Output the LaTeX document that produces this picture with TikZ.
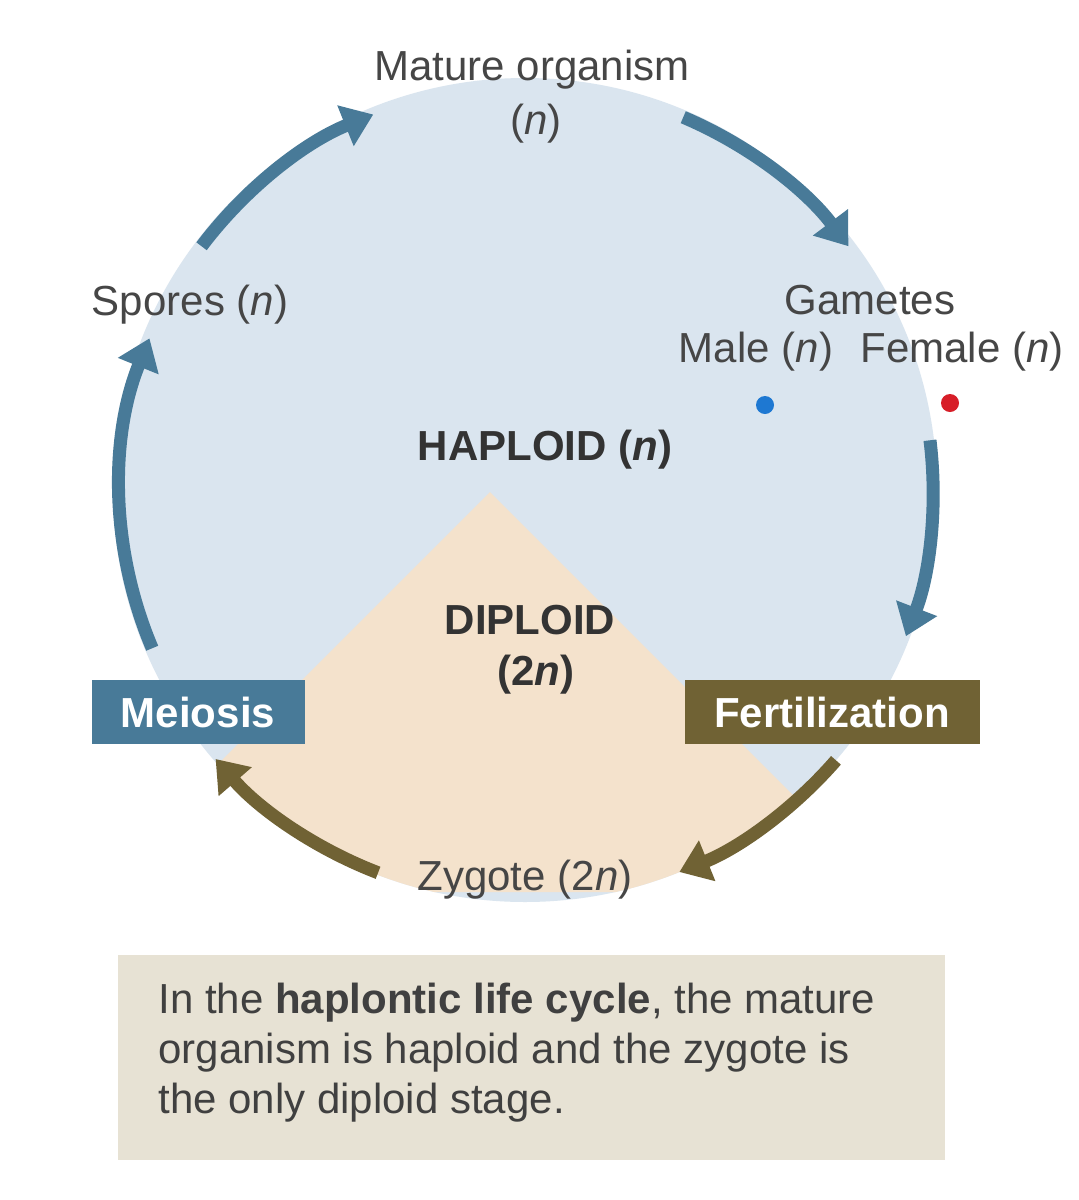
\documentclass[tikz,border=0pt]{standalone}
\usepackage{fontspec}
\setmainfont{Liberation Sans}
\usetikzlibrary{arrows.meta,calc}
\definecolor{hapl}{RGB}{218,229,239}
\definecolor{dipl}{RGB}{244,226,204}
\definecolor{bluearr}{RGB}{72,122,152}
\definecolor{olive}{RGB}{112,98,52}
\definecolor{txt}{RGB}{70,70,70}
\definecolor{note}{RGB}{231,226,212}
\definecolor{maleb}{RGB}{30,120,210}
\definecolor{femr}{RGB}{215,30,40}
\tikzset{
  cyc/.style={line width=13pt,-{Triangle[length=30pt,width=42pt]}},
  lbl/.style={text=txt,font=\fontsize{42}{46}\selectfont},
  big/.style={text=black!80,font=\fontsize{42}{46}\selectfont\bfseries},
  stepbox/.style={text=white,font=\fontsize{42}{46}\selectfont\bfseries,minimum height=64pt,inner xsep=8pt}
}
\begin{document}
\begin{tikzpicture}[x=1pt,y=-1pt]
\useasboundingbox (0,0) rectangle (1079,1200);
\fill[white] (0,0) rectangle (1079,1200);
\coordinate (c) at (525,490);
\fill[hapl] (c) circle (412);
\begin{scope}
\clip (c) circle (412);
\fill[dipl] (490,492) -- (90,892) -- (890,892) -- cycle;
\end{scope}
% arrows
\draw[cyc,bluearr] ($(c)+(-143:405)$) arc[start angle=-143,end angle=-112,radius=405];
\draw[cyc,bluearr] ($(c)+(-67:405)$) arc[start angle=-67,end angle=-37,radius=405];
\draw[cyc,bluearr] ($(c)+(-7:408)$) arc[start angle=-7,end angle=21,radius=408];
\draw[cyc,olive] ($(c)+(41:412)$) arc[start angle=41,end angle=68,radius=412];
\draw[cyc,olive] ($(c)+(111:410)$) arc[start angle=111,end angle=139,radius=410];
\draw[cyc,bluearr] ($(c)+(157:405)$) arc[start angle=157,end angle=202,radius=405];
% labels
\node[lbl] (mat) at (532,70) {Mature organism};
\node[lbl] (matn) at (536,124) {(\textit{n})};
\node[lbl] (spo) at (190,305) {Spores (\textit{n})};
\node[lbl] (gam) at (870,300) {Gametes};
\node[lbl] (male) at (756,352) {Male (\textit{n})};
\node[lbl] (fem) at (962,352) {Female (\textit{n})};
\fill[maleb] (765,405) circle (9);
\fill[femr] (950,403) circle (9);
\node[big] (hap) at (545,450) {HAPLOID (\textit{n})};
\node[big] (dip) at (530,620) {DIPLOID};
\node[big] (dipn) at (536,675) {(2\textit{n})};
\node[stepbox,fill=bluearr,minimum width=213pt] (mei) at (198,712) {Meiosis};
\node[stepbox,fill=olive,minimum width=295pt] (fer) at (832,712) {Fertilization};
\node[lbl] (zyg) at (525,880) {Zygote (2\textit{n})};
\fill[note] (118,955) rectangle (945,1160);
\node[lbl,anchor=north west,align=left,text=black!75,font=\fontsize{42}{50}\selectfont] (nt) at (155,980)
 {In the \textbf{haplontic life cycle}, the mature\\organism is haploid and the zygote is\\the only diploid stage.};
\end{tikzpicture}
\end{document}
